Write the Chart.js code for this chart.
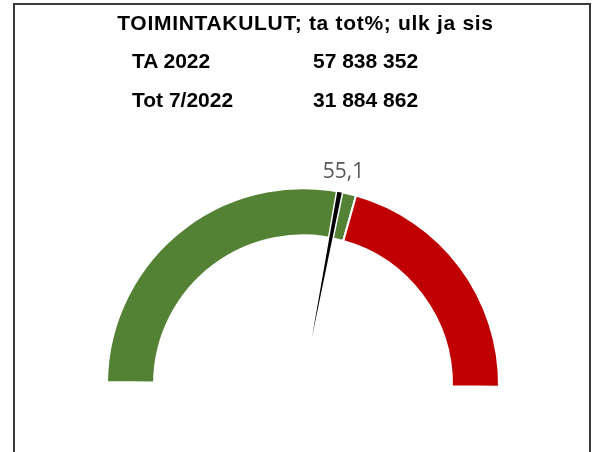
<!DOCTYPE html>
<html>
<head>
<meta charset="utf-8">
<script src="https://cdn.jsdelivr.net/npm/chart.js@4/dist/chart.umd.min.js"></script>
<style>
  body { margin: 0; background: #fff; }
  #wrap { position: relative; width: 595px; height: 452px; overflow: hidden; font-family: "Liberation Sans", Arial, sans-serif; }
  #frame { position: absolute; left: 13px; top: 3px; width: 574px; height: 470px; border: 2px solid #3a3a3a; border-bottom: none; }
  canvas { position: absolute; left: 0; top: 0; }
  .t { position: absolute; font-weight: bold; font-size: 21px; color: #000; white-space: nowrap; line-height: 1; }
</style>
</head>
<body>
<div id="wrap">
  <div id="frame"></div>
  <canvas id="band" width="595" height="452"></canvas>
  <canvas id="needle" width="595" height="452"></canvas>
  <div class="t" id="title" style="left:0;width:611px;text-align:center;top:12px;letter-spacing:0.7px;"></div>
  <div class="t" id="r1a" style="left:132px;top:50px;"></div>
  <div class="t" id="r1b" style="left:313px;top:50px;"></div>
  <div class="t" id="r2a" style="left:132px;top:89px;"></div>
  <div class="t" id="r2b" style="left:313px;top:89px;"></div>
</div>
<script>
const title = "TOIMINTAKULUT; ta tot%; ulk ja sis";
const rowLabels = ["TA 2022", "Tot 7/2022"];
const rowValues = ["57 838 352", "31 884 862"];

// gauge band: share of year passed (7/12) is green, rest red
const bandLabels = ["Tavoite", "Yli"];
const bandValues = [58.33, 41.67];
const bandColors = ["#548235", "#C00000"];

// needle: [before, needle, after]
const needleLabels = ["", "55,1", ""];
const needleValues = [55.1, 1.0, 43.9];

document.getElementById("title").textContent = title;
document.getElementById("r1a").textContent = rowLabels[0];
document.getElementById("r2a").textContent = rowLabels[1];
document.getElementById("r1b").textContent = rowValues[0];
document.getElementById("r2b").textContent = rowValues[1];

const pad = { left: 106, right: 95, top: 187, bottom: 64 };
const common = {
    responsive: false,
    animation: false,
    events: [],
    rotation: -89.3,
    circumference: 180,
    layout: { padding: pad },
    plugins: { legend: { display: false }, tooltip: { enabled: false } }
};

new Chart(document.getElementById("band"), {
    type: "doughnut",
    data: {
        labels: bandLabels,
        datasets: [{
            data: bandValues,
            backgroundColor: bandColors,
            borderColor: "#ffffff",
            borderWidth: 2
        }]
    },
    options: { ...common, cutout: "76%" }
});

const needleLabel = {
    id: "needleLabel",
    afterDraw(chart) {
        const arc = chart.getDatasetMeta(0).data[1];
        const a = (arc.startAngle + arc.endAngle) / 2;
        const r = arc.outerRadius + 20;
        const ctx = chart.ctx;
        ctx.save();
        ctx.font = "21px 'Open Sans'";
        ctx.fillStyle = "#595959";
        ctx.textAlign = "center";
        ctx.textBaseline = "middle";
        ctx.fillText(needleLabels[1], arc.x + Math.cos(a) * r, arc.y + Math.sin(a) * r);
        ctx.restore();
    }
};

new Chart(document.getElementById("needle"), {
    type: "pie",
    data: {
        labels: needleLabels,
        datasets: [{
            data: needleValues,
            backgroundColor: ["rgba(0,0,0,0)", "#000000", "rgba(0,0,0,0)"],
            borderColor: ["rgba(0,0,0,0)", "#ffffff", "rgba(0,0,0,0)"],
            borderWidth: [0, 1.5, 0]
        }]
    },
    options: common,
    plugins: [needleLabel]
});
</script>
</body>
</html>
